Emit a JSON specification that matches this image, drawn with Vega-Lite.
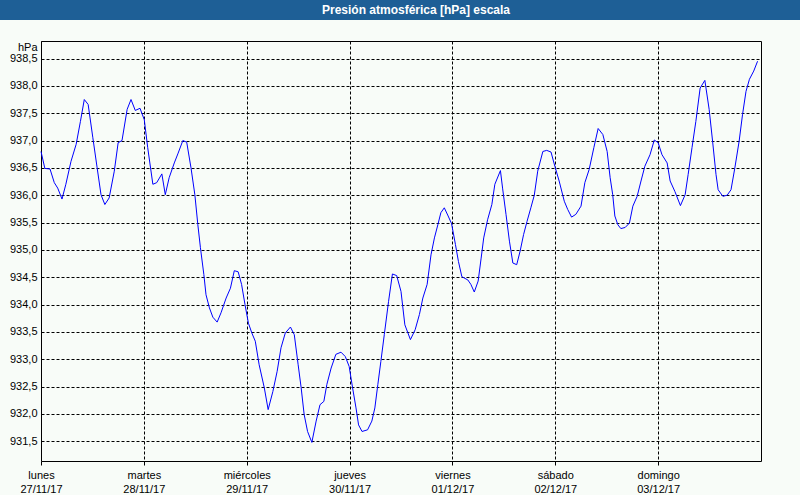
{
  "$schema": "https://vega.github.io/schema/vega-lite/v6.json",
  "background": "#f8fcf8",
  "padding": 0,
  "spacing": 20,
  "config": {
    "font": "Liberation Sans",
    "axis": {"labelFont": "Liberation Sans", "labelFontSize": 11, "labelColor": "#000000", "titleFont": "Liberation Sans"}
  },
  "vconcat": [
    {
      "width": 800,
      "height": 20,
      "view": {"fill": "#1e5f96", "stroke": null},
      "data": {"values": [{"t": "Presión atmosférica [hPa] escala"}]},
      "mark": {"type": "text", "color": "#ffffff", "font": "Liberation Sans", "fontWeight": "bold", "fontSize": 12, "dx": 16, "baseline": "middle"},
      "encoding": {"text": {"field": "t", "type": "nominal"}}
    },
    {
      "spacing": 0,
      "hconcat": [
        {
          "width": 1,
          "height": 420,
          "view": {"fill": null, "stroke": null},
          "data": {"values": []},
          "mark": {"type": "point"},
          "encoding": {}
        },
        {
          "width": 720,
          "height": 420,
          "view": {"fill": "#f8fcf8", "stroke": "#000000", "strokeWidth": 1},
          "data": {"values": [
            {"h":0,"p":936.80},{"h":0.9,"p":936.49},{"h":2.1,"p":936.48},{"h":3.1,"p":936.23},{"h":3.9,"p":936.13},{"h":4.9,"p":935.93},{"h":5.8,"p":936.20},{"h":7.0,"p":936.62},{"h":8.2,"p":936.93},{"h":9.2,"p":937.35},{"h":10.1,"p":937.75},{"h":11.0,"p":937.66},{"h":12.1,"p":937.05},{"h":13.1,"p":936.50},{"h":14.0,"p":936.01},{"h":14.9,"p":935.83},{"h":15.9,"p":935.95},{"h":17.1,"p":936.44},{"h":18.0,"p":936.96},{"h":18.9,"p":937.00},{"h":20.1,"p":937.57},{"h":21.0,"p":937.75},{"h":22.0,"p":937.55},{"h":23.1,"p":937.59},{"h":24.1,"p":937.38},{"h":24.9,"p":936.87},{"h":26.1,"p":936.20},{"h":27.0,"p":936.23},{"h":28.2,"p":936.39},{"h":29.0,"p":936.01},{"h":29.9,"p":936.32},{"h":31.1,"p":936.59},{"h":32.0,"p":936.77},{"h":33.1,"p":937.00},{"h":34.0,"p":936.97},{"h":35.0,"p":936.50},{"h":35.9,"p":936.01},{"h":36.6,"p":935.46},{"h":37.2,"p":935.04},{"h":38.0,"p":934.55},{"h":38.5,"p":934.18},{"h":39.3,"p":933.94},{"h":40.1,"p":933.77},{"h":41.1,"p":933.68},
            {"h":42.0,"p":933.85},{"h":43.2,"p":934.12},{"h":44.2,"p":934.30},{"h":45.1,"p":934.62},{"h":46.0,"p":934.60},{"h":46.8,"p":934.37},{"h":47.6,"p":934.00},{"h":48.4,"p":933.66},{"h":49.2,"p":933.48},{"h":50.0,"p":933.33},{"h":50.9,"p":932.90},{"h":52.1,"p":932.48},{"h":53.0,"p":932.08},{"h":54.1,"p":932.41},{"h":55.1,"p":932.78},{"h":56.0,"p":933.21},{"h":57.0,"p":933.48},{"h":58.2,"p":933.59},{"h":59.1,"p":933.45},{"h":60.0,"p":932.90},{"h":60.7,"p":932.48},{"h":61.4,"p":931.99},{"h":62.2,"p":931.68},{"h":63.2,"p":931.48},{"h":64.2,"p":931.87},{"h":65.1,"p":932.17},{"h":66.0,"p":932.23},{"h":66.7,"p":932.54},{"h":67.7,"p":932.84},{"h":68.8,"p":933.09},{"h":70.0,"p":933.13},{"h":71.0,"p":933.05},{"h":71.9,"p":932.87},{"h":72.7,"p":932.48},{"h":73.5,"p":932.11},{"h":74.1,"p":931.80},{"h":74.9,"p":931.68},{"h":76.2,"p":931.71},{"h":77.2,"p":931.87},{"h":77.9,"p":932.11},{"h":78.6,"p":932.54},{"h":79.3,"p":932.96},{"h":80.1,"p":933.45},{"h":81.1,"p":934.06},{"h":82.0,"p":934.56},{"h":83.0,"p":934.53},
            {"h":84.0,"p":934.24},{"h":84.9,"p":933.63},{"h":86.2,"p":933.36},{"h":87.3,"p":933.54},{"h":88.3,"p":933.82},{"h":89.1,"p":934.12},{"h":90.1,"p":934.37},{"h":91.0,"p":934.91},{"h":91.8,"p":935.22},{"h":92.6,"p":935.46},{"h":93.3,"p":935.68},{"h":94.1,"p":935.77},{"h":95.0,"p":935.62},{"h":95.8,"p":935.48},{"h":96.7,"p":935.10},{"h":97.4,"p":934.79},{"h":98.2,"p":934.51},{"h":99.6,"p":934.45},{"h":100.3,"p":934.37},{"h":101.1,"p":934.23},{"h":102.0,"p":934.43},{"h":102.7,"p":934.85},{"h":103.3,"p":935.22},{"h":104.2,"p":935.55},{"h":105.2,"p":935.83},{"h":105.9,"p":936.20},{"h":107.2,"p":936.45},{"h":107.7,"p":936.13},{"h":108.5,"p":935.65},{"h":109.3,"p":935.16},{"h":110.1,"p":934.76},{"h":111.0,"p":934.73},{"h":111.8,"p":934.98},{"h":112.6,"p":935.28},{"h":113.4,"p":935.52},{"h":114.3,"p":935.77},{"h":115.1,"p":936.00},{"h":115.9,"p":936.44},{"h":117.1,"p":936.80},{"h":118.0,"p":936.82},{"h":119.0,"p":936.79},{"h":119.9,"p":936.53},{"h":120.9,"p":936.26},{"h":122.1,"p":935.89},{"h":122.9,"p":935.74},{"h":123.8,"p":935.60},{"h":124.8,"p":935.65},
            {"h":126.0,"p":935.80},{"h":126.9,"p":936.23},{"h":127.9,"p":936.47},{"h":129.0,"p":936.87},{"h":130.0,"p":937.22},{"h":131.1,"p":937.11},{"h":132.1,"p":936.80},{"h":132.8,"p":936.32},{"h":133.4,"p":936.01},{"h":133.9,"p":935.62},{"h":134.6,"p":935.46},{"h":135.3,"p":935.39},{"h":136.3,"p":935.41},{"h":137.3,"p":935.49},{"h":138.1,"p":935.80},{"h":139.1,"p":935.98},{"h":140.0,"p":936.26},{"h":140.9,"p":936.53},{"h":142.1,"p":936.74},{"h":143.1,"p":937.01},{"h":144.0,"p":936.96},{"h":144.9,"p":936.74},{"h":146.1,"p":936.59},{"h":146.8,"p":936.26},{"h":147.9,"p":936.07},{"h":149.2,"p":935.81},{"h":150.3,"p":936.01},{"h":151.0,"p":936.38},{"h":151.9,"p":936.87},{"h":152.8,"p":937.35},{"h":153.8,"p":937.96},{"h":154.9,"p":938.10},{"h":155.9,"p":937.57},{"h":156.7,"p":936.99},{"h":157.5,"p":936.38},{"h":158.0,"p":936.10},{"h":159.1,"p":935.98},{"h":160.1,"p":936.00},{"h":161.0,"p":936.10},{"h":161.9,"p":936.50},{"h":162.9,"p":936.99},{"h":163.7,"p":937.48},{"h":164.5,"p":937.90},{"h":165.3,"p":938.12},{"h":166.3,"p":938.27},{"h":167.2,"p":938.45}
          ]},
          "mark": {"type": "line", "color": "#0000ff", "strokeWidth": 1},
          "encoding": {
            "x": {
              "field": "h", "type": "quantitative",
              "scale": {"domain": [0, 168], "nice": false, "zero": false},
              "axis": {
                "title": null,
                "values": [0, 24, 48, 72, 96, 120, 144],
                "domain": false,
                "grid": true, "gridColor": "#000000", "gridDash": [3, 2], "gridOpacity": 1, "gridWidth": 1,
                "ticks": true, "tickColor": "#000000", "tickSize": 4, "tickWidth": 1,
                "labelPadding": 4, "labelLineHeight": 14, "labelAlign": "center", "labelBaseline": "top",
                "labelFlush": false, "labelOverlap": false,
                "labelExpr": "[['lunes','martes','miércoles','jueves','viernes','sábado','domingo'][datum.value/24], ['27/11/17','28/11/17','29/11/17','30/11/17','01/12/17','02/12/17','03/12/17'][datum.value/24]]"
              }
            },
            "y": {
              "field": "p", "type": "quantitative",
              "scale": {"domain": [931.14, 938.82], "nice": false, "zero": false},
              "axis": {
                "title": "hPa", "titleAngle": 0, "titleAlign": "right", "titleBaseline": "middle",
                "titleX": -4, "titleY": 6, "titleFontSize": 11, "titleFontWeight": "normal", "titleColor": "#000000",
                "values": [931.5, 932, 932.5, 933, 933.5, 934, 934.5, 935, 935.5, 936, 936.5, 937, 937.5, 938, 938.5],
                "domain": false, "ticks": false,
                "grid": true, "gridColor": "#000000", "gridDash": [3, 2], "gridOpacity": 1, "gridWidth": 1,
                "labelPadding": 4, "labelOverlap": false, "labelFlush": false, "minExtent": 39,
                "labelExpr": "replace(format(datum.value, '.1f'), '.', ',')"
              }
            }
          }
        }
      ]
    }
  ]
}
